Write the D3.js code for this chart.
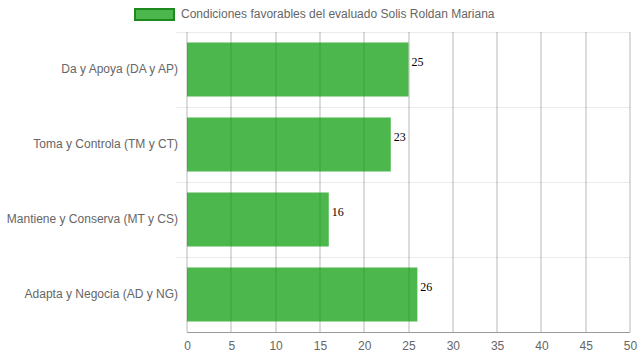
<!DOCTYPE html>
<html>
<head>
<meta charset="utf-8">
<script src="https://cdn.jsdelivr.net/npm/d3@7"></script>
<style>
  body { margin: 0; background: #fff; }
  svg { display: block; font-family: "Liberation Sans", Arial, sans-serif; }
</style>
</head>
<body>
<svg id="drawing_region"></svg>
<script>
const categories = ["Da y Apoya (DA y AP)", "Toma y Controla (TM y CT)", "Mantiene y Conserva (MT y CS)", "Adapta y Negocia (AD y NG)"];
const values = [25, 23, 16, 26];
const seriesName = "Condiciones favorables del evaluado Solis Roldan Mariana";
const xTicks = [0, 5, 10, 15, 20, 25, 30, 35, 40, 45, 50];

const data = categories.map((c, i) => ({label: c, value: values[i]}));

const config = {
    width: 639,
    height: 360,
    margin: {top: 32, right: 9, bottom: 28, left: 187}
};

const svg = d3.select('#drawing_region')
    .attr('width', config.width)
    .attr('height', config.height);

const inner_width = config.width - config.margin.left - config.margin.right;
const inner_height = config.height - config.margin.top - config.margin.bottom;

const chart = svg.append('g')
    .attr('transform', `translate(${config.margin.left}, ${config.margin.top})`);

const xscale = d3.scaleLinear()
    .domain([0, 50])
    .range([0, inner_width]);

const yscale = d3.scaleBand()
    .domain(categories)
    .range([0, inner_height]);

// horizontal grid lines (category boundaries)
chart.append('g')
    .selectAll('line')
    .data(categories)
    .join('line')
    .attr('x1', -11)
    .attr('x2', inner_width)
    .attr('y1', d => Math.round(yscale(d)) + 0.5)
    .attr('y2', d => Math.round(yscale(d)) + 0.5)
    .attr('stroke', '#ebebeb')
    .attr('stroke-width', 1);

// vertical grid lines
chart.append('g')
    .selectAll('line')
    .data(xTicks)
    .join('line')
    .attr('x1', d => Math.round(xscale(d)))
    .attr('x2', d => Math.round(xscale(d)))
    .attr('y1', 0)
    .attr('y2', inner_height)
    .attr('stroke', 'rgba(0,0,0,0.28)')
    .attr('stroke-width', 1);

// bars
const barH = yscale.bandwidth() * 0.72;
chart.append('g')
    .selectAll('rect')
    .data(data)
    .join('rect')
    .attr('x', xscale(0))
    .attr('y', d => yscale(d.label) + (yscale.bandwidth() - barH) / 2)
    .attr('width', d => xscale(d.value) - xscale(0))
    .attr('height', barH)
    .attr('fill', 'rgba(0,152,0,0.7)');

// value labels
chart.append('g')
    .selectAll('text')
    .data(data)
    .join('text')
    .attr('x', d => xscale(d.value) + 3)
    .attr('y', d => yscale(d.label) + (yscale.bandwidth() - barH) / 2 + 21)
    .attr('dominant-baseline', 'middle')
    .attr('font-family', '"Liberation Serif", "Times New Roman", serif')
    .attr('font-size', '12px')
    .attr('fill', '#000')
    .text(d => d.value);

// bottom axis
const xaxis = d3.axisBottom(xscale)
    .tickValues(xTicks)
    .tickSize(0)
    .tickPadding(9);

const xaxis_group = chart.append('g')
    .attr('transform', `translate(0, ${inner_height})`)
    .call(xaxis);
xaxis_group.select('.domain')
    .attr('stroke', '#999')
    .attr('d', `M0,0.5H${inner_width}`);
xaxis_group.selectAll('text')
    .attr('fill', '#666')
    .attr('font-size', '12px')
    .attr('font-family', '"Liberation Sans", Arial, sans-serif');

// left axis labels
const yaxis = d3.axisLeft(yscale)
    .tickSize(0)
    .tickPadding(9);

const yaxis_group = chart.append('g')
    .call(yaxis);
yaxis_group.select('.domain').remove();
yaxis_group.selectAll('text')
    .attr('fill', '#666')
    .attr('font-size', '12px')
    .attr('font-family', '"Liberation Sans", Arial, sans-serif');

// legend
const legend = svg.append('g')
    .attr('transform', 'translate(134, 8)');
legend.append('rect')
    .attr('x', 1)
    .attr('y', 1)
    .attr('width', 39)
    .attr('height', 11)
    .attr('fill', 'rgba(0,152,0,0.7)')
    .attr('stroke', '#1e8a1e')
    .attr('stroke-width', 2);
legend.append('text')
    .attr('x', 47)
    .attr('y', 7)
    .attr('dominant-baseline', 'middle')
    .attr('fill', '#666')
    .attr('font-size', '12px')
    .text(seriesName);
</script>
</body>
</html>
